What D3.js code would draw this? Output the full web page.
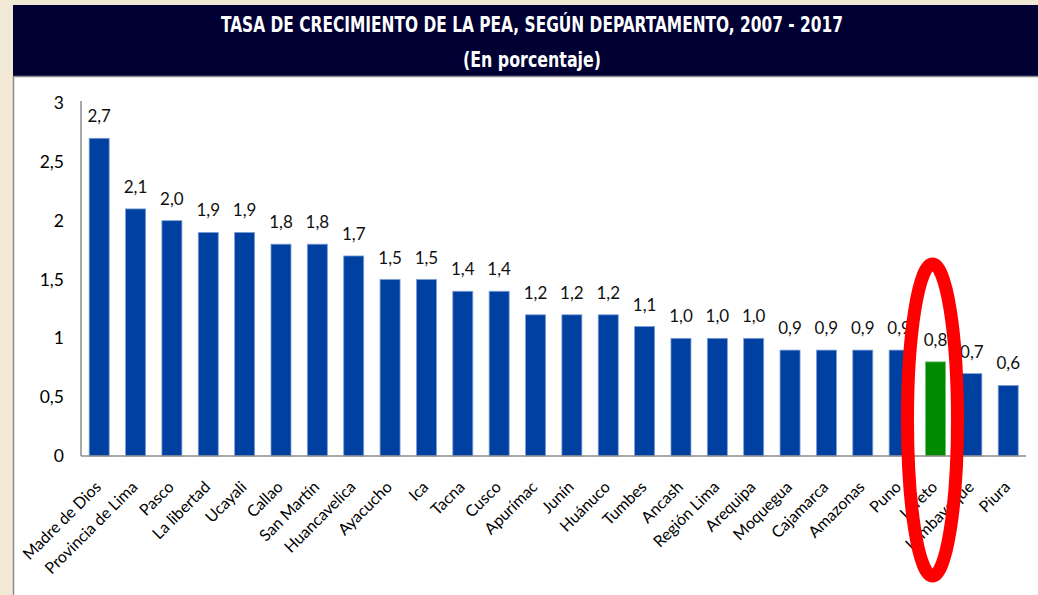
<!DOCTYPE html>
<html>
<head>
<meta charset="utf-8">
<script src="https://cdn.jsdelivr.net/npm/d3@7"></script>
<style>
  html, body { margin: 0; padding: 0; background: #f1e9d6; }
  svg { display: block; }
</style>
</head>
<body>
<svg id="chart" width="1038" height="595"></svg>
<script>
const titleText = "TASA DE CRECIMIENTO DE LA PEA, SEGÚN DEPARTAMENTO, 2007 - 2017";
const subtitleText = "(En porcentaje)";
const categories = ["Madre de Dios","Provincia de Lima","Pasco","La libertad","Ucayali","Callao","San Martín","Huancavelica","Ayacucho","Ica","Tacna","Cusco","Apurímac","Junín","Huánuco","Tumbes","Ancash","Región Lima","Arequipa","Moquegua","Cajamarca","Amazonas","Puno","Loreto","Lambayeque","Piura"];
const values = [2.7,2.1,2.0,1.9,1.9,1.8,1.8,1.7,1.5,1.5,1.4,1.4,1.2,1.2,1.2,1.1,1.0,1.0,1.0,0.9,0.9,0.9,0.9,0.8,0.7,0.6];
const highlighted = ["Loreto"];
const yTicks = [0,0.5,1,1.5,2,2.5,3];

const svg = d3.select("#chart");
const W = 1038, H = 595;

// background panels
svg.append("rect").attr("x",0).attr("y",0).attr("width",W).attr("height",H).attr("fill","#f1e9d6");
svg.append("rect").attr("x",13).attr("y",5).attr("width",W-13).attr("height",71).attr("fill","#000033");
svg.append("rect").attr("x",13).attr("y",76).attr("width",W-13).attr("height",H-76).attr("fill","#ffffff");
svg.append("line").attr("x1",13).attr("x2",W).attr("y1",76.5).attr("y2",76.5).attr("stroke","#8a8a8a").attr("stroke-width",1.5);
svg.append("line").attr("x1",13.5).attr("x2",13.5).attr("y1",76).attr("y2",H).attr("stroke","#8a8a8a").attr("stroke-width",1.5);

svg.append("text").attr("x",532).attr("y",32).attr("text-anchor","middle")
  .attr("fill","#ffffff").attr("font-family","'DejaVu Sans Condensed','DejaVu Sans',sans-serif")
  .attr("font-weight","bold").attr("font-size",21)
  .attr("textLength",622).attr("lengthAdjust","spacingAndGlyphs")
  .text(titleText);
svg.append("text").attr("x",532).attr("y",67).attr("text-anchor","middle")
  .attr("fill","#ffffff").attr("font-family","'DejaVu Sans Condensed','DejaVu Sans',sans-serif")
  .attr("font-weight","bold").attr("font-size",21)
  .attr("textLength",138).attr("lengthAdjust","spacingAndGlyphs")
  .text(subtitleText);

const x = d3.scaleBand().domain(categories).range([81, 1026.4]).paddingInner(0.45).paddingOuter(0.225);
const y = d3.scaleLinear().domain([0,3]).range([456, 103]);
const fmt = d => String(d).replace(".", ",");
const fmt1 = d => d3.format(".1f")(d).replace(".", ",");

// y axis
const yAxis = d3.axisLeft(y).tickValues(yTicks).tickFormat(fmt).tickSize(0).tickPadding(17);
const gy = svg.append("g").attr("transform","translate(81,0)").call(yAxis);
gy.select(".domain").attr("stroke","#8c8c8c").attr("stroke-width",1.5).attr("d","M0,101V456");
gy.selectAll("text").attr("font-family","Lato, 'Open Sans', sans-serif").attr("font-size",17.5).attr("fill","#000");

// bars
svg.append("g").selectAll("rect").data(categories).join("rect")
  .attr("x", d => x(d))
  .attr("y", (d,i) => y(values[i]))
  .attr("width", x.bandwidth())
  .attr("height", (d,i) => y(0) - y(values[i]))
  .attr("fill", d => highlighted.includes(d) ? "#008a00" : "#0040a0")
  .attr("stroke", d => highlighted.includes(d) ? "#6fbf6f" : "#7d9fd6")
  .attr("stroke-width", 0.8);

// x axis
const xAxis = d3.axisBottom(x).tickSize(0).tickPadding(0);
const gx = svg.append("g").attr("transform","translate(0,456)").call(xAxis);
gx.select(".domain").attr("stroke","#8c8c8c").attr("stroke-width",1.5).attr("d","M81,0H1026");
gx.selectAll("text")
  .attr("font-family","Lato, 'Open Sans', sans-serif").attr("font-size",16).attr("fill","#000")
  .attr("text-anchor","end").attr("dy",0)
  .attr("transform","translate(3,32) rotate(-45)");

// value labels
svg.append("g").selectAll("text").data(categories).join("text")
  .attr("x", d => x(d) + x.bandwidth()/2)
  .attr("y", (d,i) => y(values[i]) - 16)
  .attr("text-anchor","middle")
  .attr("font-family","Lato, 'Open Sans', sans-serif").attr("font-size",17).attr("fill","#111")
  .text((d,i) => fmt1(values[i]));

// red annotation ellipse around highlighted bar
const hx = x("Loreto") + x.bandwidth()/2;
svg.append("ellipse").attr("cx", hx - 3).attr("cy", 420).attr("rx", 25).attr("ry", 156)
  .attr("fill","none").attr("stroke","#ff0000").attr("stroke-width",13);
</script>
</body>
</html>
